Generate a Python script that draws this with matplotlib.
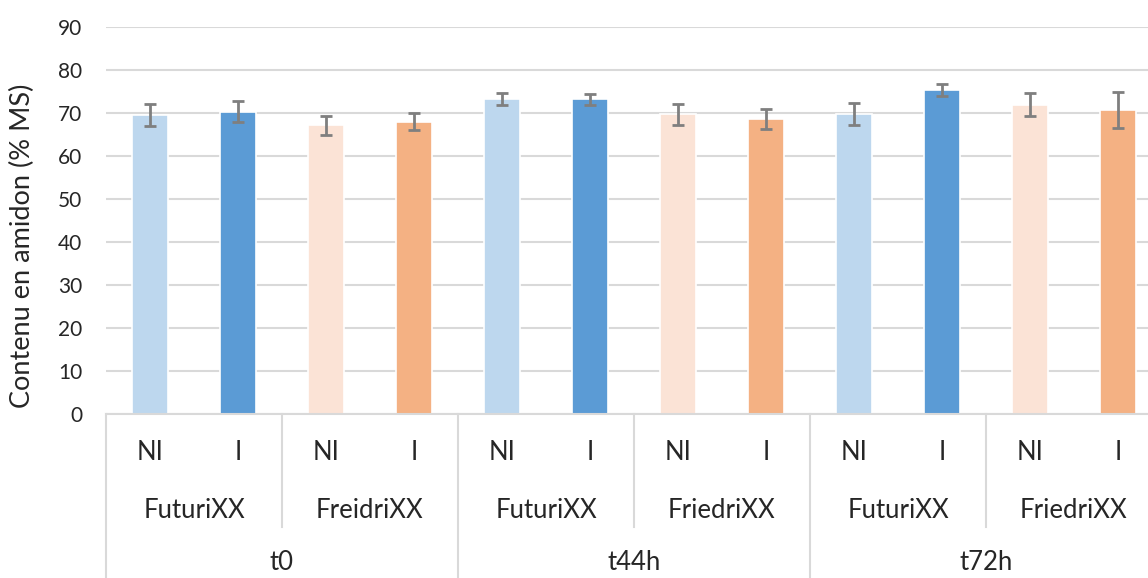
import numpy as np
import matplotlib
matplotlib.use("Agg")
import matplotlib.pyplot as plt
import matplotlib.transforms as mtransforms

plt.rcParams['font.family'] = ['Lato', 'DejaVu Sans']

# Data
times = ['t0', 't44h', 't72h']
varieties = [['FuturiXX', 'FreidriXX'], ['FuturiXX', 'FriedriXX'], ['FuturiXX', 'FriedriXX']]
treatments = ['NI', 'I']
values = [69.5, 70.3, 67.2, 68.0,
          73.3, 73.2, 69.7, 68.6,
          69.8, 75.3, 71.9, 70.7]
errors = [2.5, 2.4, 2.2, 2.0,
          1.4, 1.3, 2.5, 2.3,
          2.6, 1.4, 2.7, 4.2]
colors = ['#BDD7EE', '#5B9BD5', '#FBE3D6', '#F4B183'] * 3

TXT = '#262626'
GRID = '#D9D9D9'

W, H = 1148, 578
fig = plt.figure(figsize=(W / 100, H / 100), dpi=100)
ax_left, ax_bottom, ax_top = 106, 414, 27
ax = fig.add_axes([ax_left / W, 1 - ax_bottom / H, 1056 / W, (ax_bottom - ax_top) / H])

x = np.arange(len(values))
ax.bar(x, values, width=0.42, color=colors, edgecolor='white', linewidth=1.2, zorder=2)
ax.errorbar(x, values, yerr=errors, fmt='none', ecolor='#7F7F7F', elinewidth=2,
            capsize=4.5, capthick=2, zorder=3)

ax.set_xlim(-0.5, len(values) - 0.5)
ax.set_ylim(0, 90)
ax.set_yticks(np.arange(0, 91, 10))
ax.yaxis.grid(True, color=GRID, linewidth=1.5, zorder=0)
ax.set_axisbelow(True)
ax.tick_params(axis='y', length=0, pad=17, labelsize=15, labelcolor=TXT)
ax.set_xticks([])
for s in ['top', 'right', 'left']:
    ax.spines[s].set_visible(False)
ax.spines['bottom'].set_color(GRID)
ax.spines['bottom'].set_linewidth(1.5)

fig.text(22 / W, 1 - 246 / H, 'Contenu en amidon (% MS)', rotation=90,
         ha='center', va='center', fontsize=19.5, color=TXT)

# multi-level category axis
trans = mtransforms.blended_transform_factory(ax.transData, ax.transAxes)
ph = ax_bottom - ax_top
def ay(py):
    return (ax_bottom - py) / ph

row_y = [ay(453), ay(510), ay(563)]
n_v = 2
n_t = len(treatments)
fs = 18.5
for i in range(len(values)):
    ax.text(i, row_y[0], treatments[i % n_t], transform=trans, ha='center', va='center',
            fontsize=fs, color=TXT)
for ti, t in enumerate(times):
    for vi, v in enumerate(varieties[ti]):
        k = ti * n_v + vi
        ax.text(k * n_t + (n_t - 1) / 2, row_y[1], v, transform=trans, ha='center',
                va='center', fontsize=fs, color=TXT)
        if vi > 0:
            xs = k * n_t - 0.5
            ax.plot([xs, xs], [0, ay(527)], transform=trans, color=GRID, lw=1.5, clip_on=False)
    xc = ti * n_v * n_t + (n_v * n_t - 1) / 2
    ax.text(xc, row_y[2], t, transform=trans, ha='center', va='center', fontsize=fs, color=TXT)
    xs = ti * n_v * n_t - 0.5
    ax.plot([xs, xs], [0, ay(580)], transform=trans, color=GRID, lw=1.5, clip_on=False)

fig.savefig('out.png', dpi=100)
